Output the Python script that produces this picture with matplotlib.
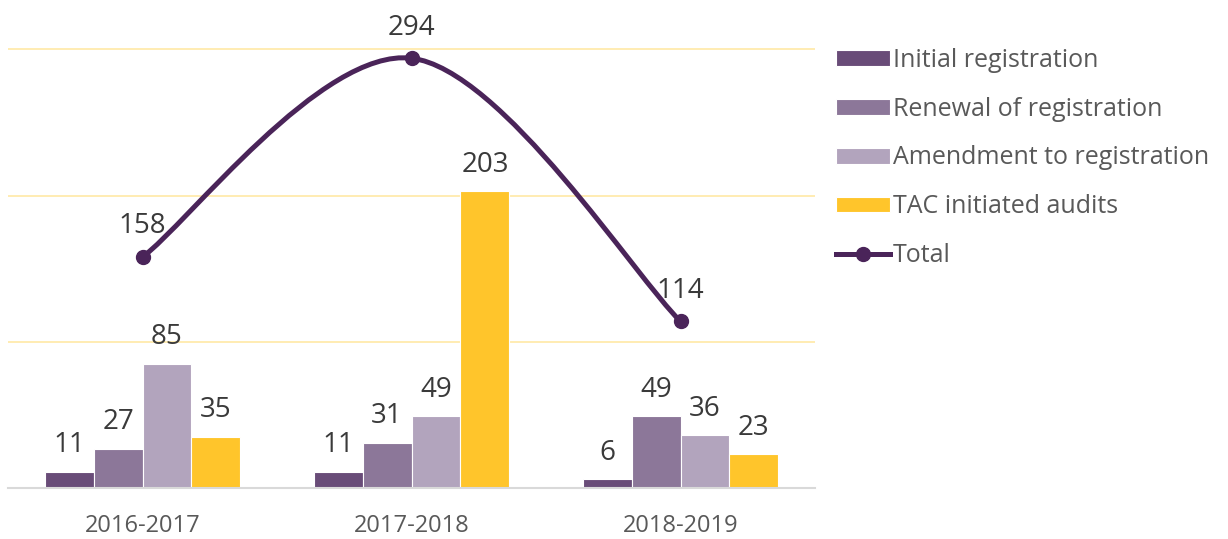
import numpy as np
import matplotlib
matplotlib.use("Agg")
import matplotlib.pyplot as plt
from matplotlib.path import Path
from matplotlib.patches import PathPatch
from matplotlib.lines import Line2D

# Data
years = ["2016-2017", "2017-2018", "2018-2019"]
initial = [11, 11, 6]
renewal = [27, 31, 49]
amendment = [85, 49, 36]
tac_audits = [35, 203, 23]
total = [158, 294, 114]

series_names = ["Initial registration", "Renewal of registration",
                "Amendment to registration", "TAC initiated audits"]
series_colors = ["#694C78", "#8C7799", "#B2A4BD", "#FFC52B"]
line_color = "#4A2459"

plt.rcParams['font.family'] = ['Open Sans', 'DejaVu Sans']

fig = plt.figure(figsize=(12.28, 5.39), dpi=100)
ax = fig.add_axes([8 / 1228, 51 / 539, 807 / 1228, 440 / 539])

x = np.arange(len(years))
width = 0.182
for i, (vals, name, col) in enumerate(zip([initial, renewal, amendment, tac_audits],
                                         series_names, series_colors)):
    pos = x + (i - 1.5) * width
    ax.bar(pos, vals, width, color=col, edgecolor="white", linewidth=0.8,
           label=name, zorder=2)
    for px, v in zip(pos, vals):
        ax.annotate(str(v), (px, v), xytext=(0, 9), textcoords="offset points",
                    ha="center", va="bottom", fontsize=20, color="#3A3A3A")

# smooth line (Excel-like cardinal bezier through the totals)
pts = np.column_stack([x, total]).astype(float)
verts = [pts[0]]
codes = [Path.MOVETO]
n = len(pts)
for k in range(n - 1):
    p0 = pts[k - 1] if k > 0 else pts[k]
    p1, p2 = pts[k], pts[k + 1]
    p3 = pts[k + 2] if k + 2 < n else pts[k + 1]
    c1 = p1 + (p2 - p0) / 6
    c2 = p2 - (p3 - p1) / 6
    verts += [c1, c2, p2]
    codes += [Path.CURVE4] * 3
ax.add_patch(PathPatch(Path(verts, codes), facecolor="none", edgecolor=line_color,
                       linewidth=3.6, zorder=3, clip_on=False, capstyle="round"))
ax.plot(x, total, "o", color=line_color, markersize=10, zorder=4, clip_on=False)
for px, v in zip(x, total):
    ax.annotate(str(v), (px, v), xytext=(0, 12), textcoords="offset points",
                ha="center", va="bottom", fontsize=20, color="#3A3A3A")

ax.set_xlim(-0.5, 2.5)
ax.set_ylim(0, 301)
ax.set_yticks([100, 200, 300])
ax.yaxis.grid(True, color="#FFE9A6", linewidth=1.2, zorder=0)
ax.set_axisbelow(True)
ax.tick_params(axis="y", left=False, labelleft=False)
ax.tick_params(axis="x", bottom=False, labelsize=17, labelcolor="#595959", pad=15)
ax.set_xticks(x)
ax.set_xticklabels(years)
for side in ["top", "right", "left"]:
    ax.spines[side].set_visible(False)
ax.spines["bottom"].set_color("#D9D9D9")
ax.spines["bottom"].set_linewidth(1.5)

handles, labels = ax.get_legend_handles_labels()
handles.append(Line2D([], [], color=line_color, linewidth=3.6, marker="o", markersize=10))
labels.append("Total")
fig.legend(handles, labels, loc="upper left", bbox_to_anchor=(836 / 1228, 1 - 48 / 539),
           frameon=False, fontsize=18, labelcolor="#595959", handlelength=2.15,
           handleheight=0.6, handletextpad=0.12, labelspacing=0.95, borderaxespad=0,
           borderpad=0)

fig.savefig("out.png", dpi=100)
